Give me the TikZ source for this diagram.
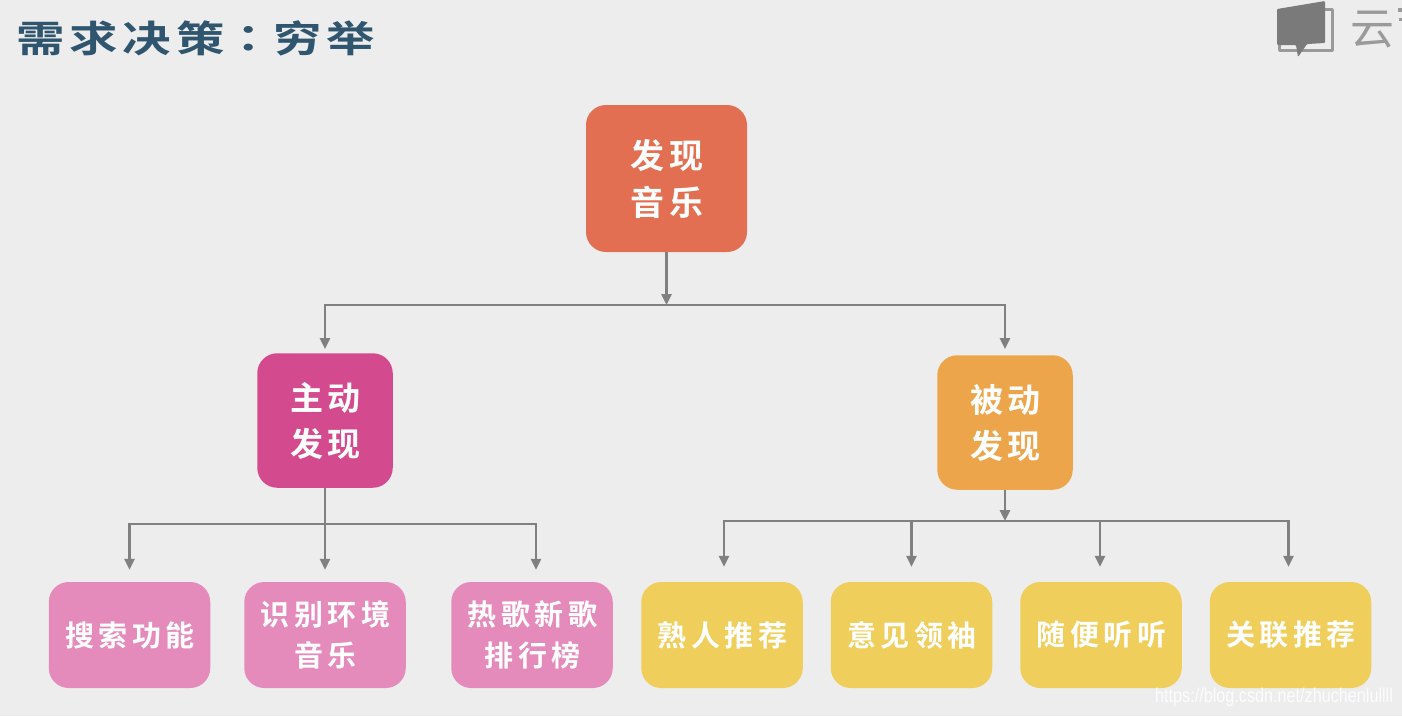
\documentclass[tikz,border=0pt]{standalone}
\usepackage{fontspec}
\usetikzlibrary{arrows.meta}
\setmainfont{Noto Sans CJK SC}[BoldFont=* Bold]
\newfontfamily\cjkb{Noto Sans CJK SC Bold}
\newfontfamily\cjkm{Noto Sans CJK SC}
\newfontfamily\cjktc{Noto Sans CJK TC Bold}
\newfontfamily\wmfont{Liberation Sans}
\newcommand{\fs}[1]{\fontsize{#1}{#1}\selectfont}
\newcommand{\ctr}{\kern1pt}
\definecolor{bgc}{HTML}{EDEDED}
\definecolor{linec}{HTML}{808080}
\definecolor{titlec}{HTML}{2F566E}
\definecolor{logoc}{HTML}{7A7A7A}
\definecolor{logot}{HTML}{9A9A9A}
\definecolor{topc}{HTML}{E26F52}
\definecolor{activec}{HTML}{D44A8E}
\definecolor{passivec}{HTML}{EDA54B}
\definecolor{pinkc}{HTML}{E58BBC}
\definecolor{yellowc}{HTML}{EFCE5B}
\tikzset{
  x=1pt,y=-1pt,
  boxbase/.style={rounded corners=20pt,inner sep=0pt,align=center,text=white},
  topbox/.style={boxbase,fill=topc,minimum width=161pt,minimum height=147pt,font=\cjkb\fs{34}\addfontfeatures{LetterSpace=14}},
  midbox/.style={boxbase,minimum width=135.5pt,minimum height=134.5pt,font=\cjkb\fs{33}\addfontfeatures{LetterSpace=14}},
  leafbox/.style={boxbase,minimum width=161.5pt,minimum height=106pt,font=\cjkb\fs{29}\addfontfeatures{LetterSpace=16}},
  pinkbox/.style={leafbox,fill=pinkc},
  yellowbox/.style={leafbox,fill=yellowc},
  wire/.style={draw=linec,line width=2.6pt},
  conn/.style={wire,-{Triangle[length=11pt,width=10pt]}},
}
\begin{document}
\begin{tikzpicture}
\fill[bgc] (0,0) rectangle (1402,716);
\useasboundingbox (0,0) rectangle (1402,716);

% title
\node[anchor=west,text=titlec,inner sep=0pt,xscale=1.31] (title) at (16,38)
  {\cjkb\fs{37}\addfontfeatures{LetterSpace=10}需求决策{\cjktc\addfontfeatures{LetterSpace=10}：}穷举};

% logo
\draw[logot,line width=3pt,line join=round] (1325,9) -- (1332,9) -- (1332,50) -- (1279,50) -- (1279,44);
\fill[logoc,rounded corners=1pt] (1277,9) -- (1325,1) -- (1325,43) -- (1307,44) -- (1298,57) -- (1296,45) -- (1277,45) -- cycle;
\node[anchor=west,inner sep=0pt,text=logot] (logotext) at (1350,30) {\cjkm\fs{44}云};
\fill[logot] (1398,8) rectangle (1402,12);
\fill[logot] (1399,18) rectangle (1402,21);

% nodes
\node[topbox] (top) at (666.5,178.5) {\ctr 发现\\[13pt]\ctr 音乐};
\node[midbox,fill=activec] (active) at (325,420.5) {\ctr 主动\\[13pt]\ctr 发现};
\node[midbox,fill=passivec] (passive) at (1005,422.5) {\ctr 被动\\[13pt]\ctr 发现};
\node[pinkbox] (search) at (129.5,635) {\ctr 搜索功能};
\node[pinkbox] (env) at (325,635) {\ctr 识别环境\\[12pt]\ctr 音乐};
\node[pinkbox] (hot) at (532,635) {\ctr 热歌新歌\\[12pt]\ctr 排行榜};
\node[yellowbox] (friend) at (722,635) {\ctr 熟人推荐};
\node[yellowbox] (leader) at (911.5,635) {\ctr 意见领袖};
\node[yellowbox] (random) at (1101,635) {\ctr 随便听听};
\node[yellowbox] (assoc) at (1290.5,635) {\ctr 关联推荐};

% junctions
\coordinate (busA) at (666.5,305);
\coordinate (busB) at (325,524);
\coordinate (busC) at (1005,521);

% connectors
\draw[conn] (top.south) -- (busA);
\draw[conn,shorten >=4pt] (busA) -| (active.north);
\draw[conn,shorten >=6pt] (busA) -| (passive.north);
\draw[conn,shorten >=12pt] (active.south) -- (env.north);
\draw[conn,shorten >=12pt] (busB) -| (search.north);
\draw[conn,shorten >=12pt] (busB) -| ([xshift=4pt]hot.north);
\draw[conn] (passive.south) -- (busC);
\draw[conn,shorten >=15pt] (busC) -| ([xshift=2pt]friend.north);
\draw[conn,shorten >=15pt] (busC) -| (leader.north);
\draw[conn,shorten >=15pt] (busC) -| ([xshift=-1pt]random.north);
\draw[conn,shorten >=15pt] (busC) -| ([xshift=-2pt]assoc.north);

% watermark
\node[anchor=west,inner sep=0pt,text=white,opacity=.85,xscale=.81] (mark) at (1155,697)
  {\wmfont\fs{20}https://blog.csdn.net/zhuchenlullll};
\end{tikzpicture}
\end{document}
